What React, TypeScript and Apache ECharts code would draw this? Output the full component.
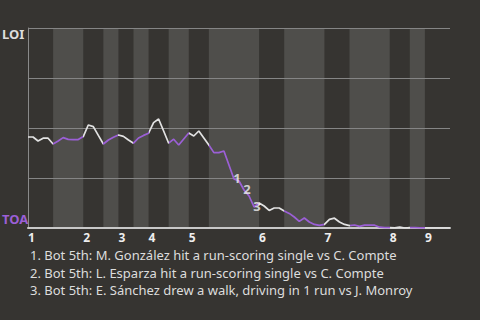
import React, { useEffect, useRef } from "react";
import * as echarts from "echarts";

const halfInningBounds = [0, 5, 11, 15, 18, 21, 24, 28, 32, 36, 46, 51, 59, 64, 72, 76, 79, 84];
const inningStarts = [0, 11, 18, 24, 32, 46, 59, 72, 79];
const inningLabels = ["1", "2", "3", "4", "5", "6", "7", "8", "9"];
const winProb = [
  0.455, 0.455, 0.435, 0.449, 0.449, 0.42, 0.435, 0.452, 0.443, 0.442,
  0.442, 0.457, 0.515, 0.507, 0.463, 0.42, 0.44, 0.454, 0.465, 0.458,
  0.44, 0.424, 0.45, 0.463, 0.474, 0.527, 0.545, 0.485, 0.424, 0.444,
  0.415, 0.445, 0.475, 0.46, 0.485, 0.45, 0.415, 0.377, 0.377, 0.385,
  0.315, 0.245, 0.235, 0.19, 0.16, 0.105, 0.125, 0.11, 0.088, 0.1,
  0.1, 0.085, 0.073, 0.055, 0.033, 0.05, 0.03, 0.018, 0.013, 0.018,
  0.043, 0.049, 0.03, 0.018, 0.012, 0.015, 0.008, 0.014, 0.014, 0.014,
  0.004, 0.002, 0.002, 0.001, 0.004, 0, 0.002, 0.002, 0.001, 0.001,
  0, 0, 0, 0, 0,
];
const eventIdx = [41, 43, 45];
const eventLabels = ["1", "2", "3"];
const notes = [
  "1. Bot 5th: M. González hit a run-scoring single vs C. Compte",
  "2. Bot 5th: L. Esparza hit a run-scoring single vs C. Compte",
  "3. Bot 5th: E. Sánchez drew a walk, driving in 1 run vs J. Monroy",
];
const teamTop = "LOI";
const teamBottom = "TOA";

const BG = "#363431";
const BAND = "#4f4e4b";
const WHITE = "#e2e2e2";
const PURPLE = "#9b5fd6";
const FONT = "'Noto Sans', sans-serif";

export default function App() {
  const ref = useRef<HTMLDivElement>(null);
  useEffect(() => {
    if (!ref.current) return;
    const chart = echarts.init(ref.current, null, { renderer: "svg" });
    const lightBands: any[] = [];
    const pieces: any[] = [];
    for (let i = 0; i < halfInningBounds.length - 1; i++) {
      const a = halfInningBounds[i];
      const b = halfInningBounds[i + 1];
      if (i % 2 === 1) lightBands.push([{ xAxis: a }, { xAxis: b }]);
      const p: any = { gte: a, color: i % 2 === 0 ? WHITE : PURPLE };
      if (i === halfInningBounds.length - 2) p.lte = b;
      else p.lt = b;
      pieces.push(p);
    }
    const lineData = winProb.map((v, i) => [i, v]);
    const eventData = eventIdx.map((k, i) => ({ value: [k, winProb[k]], name: eventLabels[i] }));
    const maxX = halfInningBounds[halfInningBounds.length - 1];
    chart.setOption({
      animation: false,
      backgroundColor: BG,
      grid: { left: 28, right: 30, top: 28, bottom: 92 },
      xAxis: {
        type: "value",
        min: 0,
        max: maxX,
        z: 3,
        axisLine: { show: true, lineStyle: { color: "#c8c8c8", width: 2 } },
        axisTick: { show: false },
        splitLine: { show: false },
        axisLabel: {
          customValues: inningStarts,
          formatter: (v: number) => inningLabels[inningStarts.indexOf(v)] ?? "",
          align: "left",
          margin: 3,
          color: "#eeeeee",
          fontWeight: "bold",
          fontSize: 12,
          lineHeight: 12,
          fontFamily: FONT,
        },
      },
      yAxis: {
        type: "value",
        min: 0,
        max: 1,
        interval: 0.25,
        z: 3,
        axisLine: { show: true, lineStyle: { color: "#8a8a8a", width: 1 } },
        axisTick: { show: false },
        axisLabel: { show: false },
        splitLine: { show: true, lineStyle: { color: "#858585", width: 1 } },
      },
      visualMap: {
        type: "piecewise",
        show: false,
        dimension: 0,
        seriesIndex: 1,
        pieces,
      },
      series: [
        {
          type: "line",
          z: 1,
          silent: true,
          data: [[0, 0], [maxX, 0]],
          symbol: "none",
          lineStyle: { width: 0, opacity: 0 },
          markArea: {
            silent: true,
            itemStyle: { color: BAND },
            label: { show: false },
            data: lightBands,
          },
        },
        {
          type: "line",
          z: 5,
          data: lineData,
          symbol: "none",
          lineStyle: { width: 1.7 },
        },
        {
          type: "scatter",
          z: 6,
          data: eventData,
          symbolSize: 0,
          label: {
            show: true,
            position: "inside",
            offset: [3, -1],
            formatter: (p: any) => p.name,
            color: "#f2f2f2",
            fontWeight: "bold",
            fontSize: 13,
            fontFamily: FONT,
          },
        },
      ],
      graphic: [
        {
          type: "text",
          left: 2,
          top: 27,
          style: { text: teamTop, fill: "#dddddd", font: `bold 13px ${FONT}` },
        },
        {
          type: "text",
          left: 2,
          top: 212,
          style: { text: teamBottom, fill: PURPLE, font: `bold 13px ${FONT}` },
        },
        ...notes.map((t, i) => ({
          type: "text",
          x: 30,
          y: 255 + i * 17.5,
          style: {
            text: t,
            fill: "#dddddd",
            font: `13px ${FONT}`,
            verticalAlign: "middle",
            align: "left",
          },
        })),
      ],
    });
    return () => chart.dispose();
  }, []);
  return (
    <div
      ref={ref}
      style={{ position: "fixed", left: 0, top: 0, width: 480, height: 320, background: BG }}
    />
  );
}
